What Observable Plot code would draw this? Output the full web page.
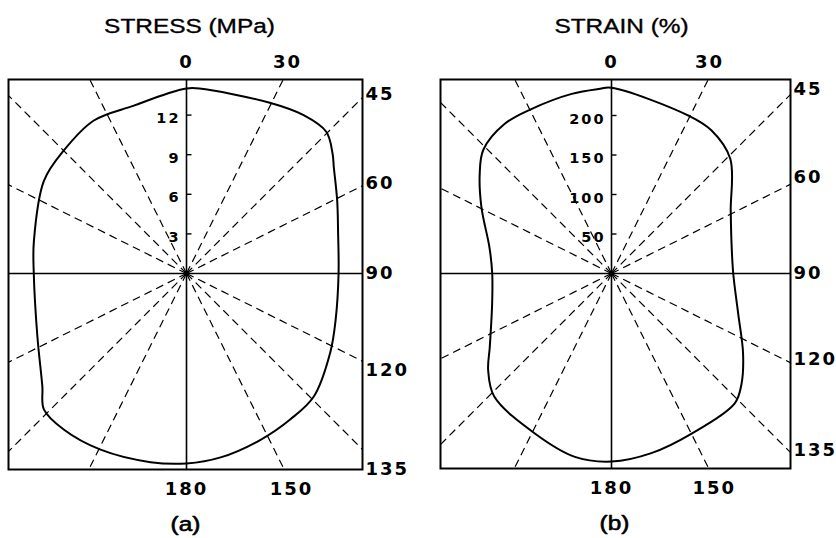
<!DOCTYPE html>
<html>
<head>
<meta charset="utf-8">
<script src="https://cdn.jsdelivr.net/npm/d3@7"></script>
<script src="https://cdn.jsdelivr.net/npm/@observablehq/plot@0.6"></script>
<style>
  body { margin: 0; background: #fff; }
  #root { display: flex; width: 836px; height: 538px; overflow: hidden; }
</style>
</head>
<body>
<div id="root"></div>
<script>
// ---- data (angle in degrees, clockwise from top) ----
const stressAngles = [0, 4, 26, 36.5, 44.6, 50.6, 54.2, 64.2, 75, 90, 107, 118.7, 134, 144.5, 156, 169.5, 180, 190.8, 206, 218.2, 226.4, 232, 247, 270, 282, 303, 315, 328.8, 342.6, 354];
const stressValues = [14.02, 14.05, 14.39, 14.92, 15.08, 14.32, 13.76, 12.68, 11.89, 11.52, 11.82, 12.42, 13.41, 13.56, 13.79, 14.17, 14.39, 14.55, 14.85, 15.04, 14.92, 13.86, 12.27, 11.57, 11.82, 12.88, 13.16, 13.55, 13.33, 13.71];

const strainAngles = [0, 26, 35, 46, 62, 75, 90, 107.5, 121.3, 130.2, 136.5, 153.4, 167.5, 180, 191.3, 205.6, 223.6, 231.9, 239, 256, 270, 282, 297, 307, 314, 324.5, 334, 347.5, 356];
const strainValues = [235.1, 222.3, 220.9, 209.0, 170.9, 157.2, 154.1, 168.1, 194.9, 215.6, 226.6, 226.6, 232.9, 238.0, 236.7, 224.6, 215.2, 198.4, 179.7, 155.7, 151.0, 157.9, 184.8, 208.9, 225.5, 232.7, 231.6, 232.9, 234.2];

const gridAngles = [26.5, 45, 63.5, 116.5, 135, 153.5, 206.5, 225, 243.5, 296.5, 315, 333.5];
const angleLabels = ["0", "30", "45", "60", "90", "120", "135", "150", "180"];
const angleLabelSides = ["top", "top", "right", "right", "right", "right", "right", "bottom", "bottom"];
const stressLabelDirs = [0, 27.5, 44.5, 62.9, 90, 118.9, 138.1, 151.8, 180];
const strainLabelDirs = [0, 26.8, 44.2, 61.7, 90, 115.7, 134.7, 152.2, 180];

const stressTicks = [3, 6, 9, 12];
const strainTicks = [50, 100, 150, 200];

const titles = ["STRESS (MPa)", "STRAIN (%)"];
const captions = ["(a)", "(b)"];

// ---- drawing ----
const rad = Math.PI / 180;
const SANS = "'Liberation Sans', Arial, Helvetica, sans-serif";
const BOLD = "'DejaVu Sans', 'Liberation Sans', sans-serif";

function panel(cfg) {
  const {angles, values, ticks, labelDirs, title, caption, xDomain, yDomain, margins, pxPerUnit, titleDx, captionDx} = cfg;
  const curve = angles.map((a, i) => ({x: values[i] * Math.sin(a * rad), y: values[i] * Math.cos(a * rad)}));
  const far = 3 * Math.max(...xDomain.map(Math.abs), ...yDomain.map(Math.abs));
  const grid = gridAngles.map(a => ({x1: 0, y1: 0, x2: far * Math.sin(a * rad), y2: far * Math.cos(a * rad)}));
  const labels = angleLabels.map((t, i) => {
    const s = Math.sin(labelDirs[i] * rad), c = Math.cos(labelDirs[i] * rad);
    const side = angleLabelSides[i];
    let x, y;
    if (side === "top") { y = yDomain[1]; x = y * s / c; }
    else if (side === "bottom") { y = yDomain[0]; x = y * s / c; }
    else { x = xDomain[1]; y = x * c / s; }
    return {t, x, y, side};
  });
  const tickLen = 5 / pxPerUnit;
  const tickData = ticks.map(v => ({v}));
  const labelStyle = {x: "x", y: "y", text: "t", fontFamily: BOLD, fontWeight: "bold", fontSize: 18, fill: "#000"};
  const plainStyle = {x: "x", y: "y", text: "t", fontFamily: SANS, fontSize: 20, fill: "#000", stroke: "#000", strokeWidth: 0.35};

  return Plot.plot({
    width: 418, height: 538,
    marginTop: margins[0], marginRight: margins[1], marginBottom: margins[2], marginLeft: margins[3],
    x: {domain: xDomain, axis: null},
    y: {domain: yDomain, axis: null},
    style: {background: "#fff"},
    marks: [
      Plot.link(grid, {x1: "x1", y1: "y1", x2: "x2", y2: "y2", stroke: "#000", strokeWidth: 1.2, strokeDasharray: "8,5", clip: true}),
      Plot.ruleX([0], {stroke: "#000", strokeWidth: 1.6}),
      Plot.ruleY([0], {stroke: "#000", strokeWidth: 1.6}),
      Plot.line(curve, {x: "x", y: "y", curve: "catmull-rom-closed", stroke: "#000", strokeWidth: 2}),
      Plot.link(tickData, {x1: () => 0, x2: () => tickLen, y1: "v", y2: "v", stroke: "#000", strokeWidth: 1.4}),
      Plot.text(tickData, {x: () => 0, y: "v", text: d => String(d.v), textAnchor: "end", dx: -6, dy: 3.5, fontFamily: BOLD, fontWeight: "bold", fontSize: 14.5, fill: "#000"}),
      Plot.frame({stroke: "#000", strokeWidth: 2}),
      Plot.text(labels.filter(d => d.side === "top"), {...labelStyle, dy: -17}),
      Plot.text(labels.filter(d => d.side === "bottom"), {...labelStyle, dy: 20}),
      Plot.text(labels.filter(d => d.side === "right"), {...labelStyle, textAnchor: "start", dx: 3}),
      Plot.text([{t: title, x: 0, y: yDomain[1]}], {...plainStyle, dy: -53, dx: titleDx}),
      Plot.text([{t: caption, x: 0, y: yDomain[0]}], {...plainStyle, dy: 55, dx: captionDx, strokeWidth: 0.6})
    ]
  });
}

// after insertion in the page: widen plain texts, space the digits
function finishText(svg, stretchTexts) {
  d3.select(svg).selectAll("text").each(function() {
    const content = this.textContent;
    if (/^\d+$/.test(content)) {
      this.style.letterSpacing = "2px";
    } else if (stretchTexts.includes(content)) {
      const len = this.getComputedTextLength();
      if (len > 0) {
        this.setAttribute("textLength", (len * 1.22).toFixed(1));
        this.setAttribute("lengthAdjust", "spacingAndGlyphs");
      }
    }
  });
}

const stressScale = 13.2;
const strainScale = 0.79;

const root = document.getElementById("root");
const svgA = panel({
  angles: stressAngles, values: stressValues, ticks: stressTicks, labelDirs: stressLabelDirs,
  title: titles[0], caption: captions[0],
  xDomain: [-178 / stressScale, 176 / stressScale],
  yDomain: [-196 / stressScale, 194 / stressScale],
  margins: [79, 56, 69, 8], pxPerUnit: stressScale, titleDx: 3, captionDx: -1
});
const svgB = panel({
  angles: strainAngles, values: strainValues, ticks: strainTicks, labelDirs: strainLabelDirs,
  title: titles[1], caption: captions[1],
  xDomain: [-171 / strainScale, 179 / strainScale],
  yDomain: [-195 / strainScale, 194 / strainScale],
  margins: [79, 46, 70, 22], pxPerUnit: strainScale, titleDx: 10, captionDx: 3
});
root.appendChild(svgA);
root.appendChild(svgB);
finishText(svgA, [titles[0], captions[0]]);
finishText(svgB, [titles[1], captions[1]]);
</script>
</body>
</html>
